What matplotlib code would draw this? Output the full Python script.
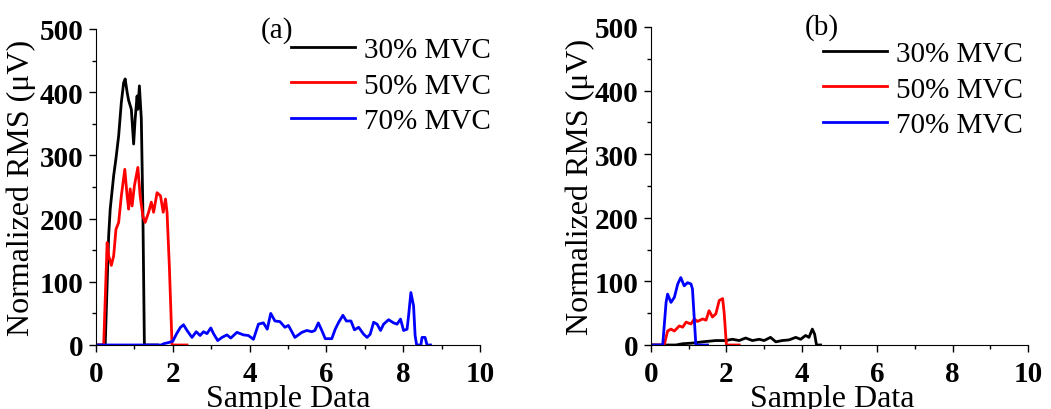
import numpy as np
import matplotlib
matplotlib.use("Agg")
import matplotlib.pyplot as plt
from matplotlib.ticker import MultipleLocator

plt.rcParams["font.family"] = ["Liberation Serif", "DejaVu Serif"]

labels = ["30% MVC", "50% MVC", "70% MVC"]
colors = ["black", "red", "blue"]

# panel (a)
a30_x = [0, 0.24, 0.33, 0.37, 0.46, 0.52, 0.59, 0.66, 0.72, 0.76, 0.81, 0.85, 0.92,
         0.98, 1.02, 1.07, 1.09, 1.13, 1.18, 1.22, 1.26, 1.6]
a30_y = [0, 0, 173, 215, 268, 295, 331, 384, 415, 421, 400, 387, 373,
         318, 358, 394, 373, 410, 358, 215, 0, 0]

a50_x = [0, 0.2, 0.29, 0.33, 0.40, 0.46, 0.52, 0.59, 0.66, 0.75, 0.81, 0.85, 0.89,
         0.94, 1.0, 1.09, 1.15, 1.22, 1.28, 1.37, 1.44, 1.5, 1.59, 1.68, 1.75,
         1.81, 1.85, 1.91, 1.98, 2.37]
a50_y = [0, 0, 162, 141, 126, 141, 183, 194, 236, 278, 236, 215, 247,
         220, 252, 281, 236, 204, 194, 210, 226, 210, 241, 236, 210,
         231, 210, 125, 0, 0]

a70_x = [0, 1.7, 1.76, 1.9, 2.0, 2.1, 2.2, 2.28, 2.37, 2.5, 2.61, 2.71, 2.8, 2.89,
         2.99, 3.06, 3.17, 3.28, 3.41, 3.51, 3.67, 3.84, 3.97, 4.1, 4.23, 4.36,
         4.46, 4.55, 4.66, 4.79, 4.92, 5.01, 5.18, 5.36, 5.49, 5.62, 5.7, 5.79,
         5.88, 5.97, 6.14, 6.23, 6.32, 6.43, 6.52, 6.64, 6.73, 6.84, 6.97, 7.06,
         7.14, 7.23, 7.32, 7.41, 7.49, 7.62, 7.75, 7.84, 7.93, 8.01, 8.1, 8.14,
         8.2, 8.27, 8.31, 8.35, 8.46, 8.49, 8.57, 8.62, 8.71]
a70_y = [0, 0, 2, 4, 6, 18, 28, 32, 23, 12, 21, 15, 21, 18,
         27, 18, 7, 12, 16, 11, 20, 16, 15, 9, 33, 35,
         25, 50, 38, 37, 28, 31, 12, 20, 23, 21, 23, 35,
         23, 10, 10, 25, 36, 47, 38, 38, 24, 28, 17, 12,
         17, 36, 33, 23, 33, 40, 35, 33, 41, 23, 25, 46,
         83, 62, 15, 0, 0, 12, 12, 0, 0]

# panel (b)
b30_x = [0, 0.35, 0.66, 0.84, 1.1, 1.37, 1.72, 1.98, 2.16, 2.34, 2.51, 2.69, 2.87,
         3.0, 3.17, 3.31, 3.48, 3.66, 3.84, 3.97, 4.1, 4.19, 4.28, 4.34, 4.39, 4.5]
b30_y = [0, 0, 0, 2, 3, 5, 7, 7, 9, 7, 11, 7, 9,
         7, 12, 5, 7, 8, 12, 9, 15, 12, 25, 17, 0, 0]

b50_x = [0, 0.35, 0.44, 0.53, 0.62, 0.75, 0.84, 0.93, 1.06, 1.15, 1.23, 1.37, 1.46,
         1.54, 1.63, 1.72, 1.81, 1.90, 1.94, 2.0, 2.34]
b50_y = [0, 0, 22, 25, 22, 30, 28, 36, 33, 41, 37, 41, 39,
         54, 44, 49, 70, 73, 51, 0, 0]

b70_x = [0, 0.31, 0.40, 0.44, 0.53, 0.62, 0.71, 0.79, 0.88, 0.97, 1.06, 1.10, 1.19, 1.5]
b70_y = [0, 0, 67, 80, 67, 75, 96, 106, 93, 98, 96, 88, 0, 0]

panels = [
    ("(a)", [(a30_x, a30_y), (a50_x, a50_y), (a70_x, a70_y)]),
    ("(b)", [(b30_x, b30_y), (b50_x, b50_y), (b70_x, b70_y)]),
]

W, H = 1051, 410
fig = plt.figure(figsize=(W / 100, H / 100), dpi=100)

# axes boxes in pixels: left, top, right, bottom
boxes = [(96, 30, 480, 346), (651, 28, 1028, 346)]
ylab_x = [-0.155, -0.148]
xlab_x = [0.5, 0.48]
tag_pos = [(277, 31), (822, 28)]
leg_pos = [(291, 38), (823, 42)]

for i, (tag, series) in enumerate(panels):
    l, t, r, b = boxes[i]
    ax = fig.add_axes([l / W, 1 - b / H, (r - l) / W, (b - t) / H])
    for (x, y), c, lab in zip(series, colors, labels):
        ax.plot(x, y, color=c, lw=2, label=lab)
    ax.set_xlim(0, 10)
    ax.set_ylim(0, 500)
    ax.xaxis.set_major_locator(MultipleLocator(2))
    ax.xaxis.set_minor_locator(MultipleLocator(1))
    ax.yaxis.set_major_locator(MultipleLocator(100))
    ax.yaxis.set_minor_locator(MultipleLocator(50))
    ax.spines["top"].set_visible(False)
    ax.spines["right"].set_visible(False)
    ax.tick_params(which="major", direction="out", length=5, width=1, pad=4,
                   labelsize=21)
    ax.tick_params(axis="x", which="major", pad=6)
    ax.tick_params(which="minor", direction="out", length=3, width=1)
    for lb in ax.get_xticklabels() + ax.get_yticklabels():
        lb.set_fontweight("bold")
    ax.set_ylabel("Normalized RMS (μV)", fontsize=23)
    ax.yaxis.set_label_coords(ylab_x[i], 0.5)
    ax.set_xlabel("Sample Data", fontsize=23)
    ax.xaxis.set_label_coords(xlab_x[i], -0.122)

    fig.text(tag_pos[i][0] / W, 1 - tag_pos[i][1] / H, tag, fontsize=21,
             ha="center", va="center")
    ax.legend(loc="upper left", bbox_to_anchor=(leg_pos[i][0] / W, 1 - leg_pos[i][1] / H),
              bbox_transform=fig.transFigure, frameon=False, fontsize=21,
              handlelength=2.2, handletextpad=0.3, labelspacing=0.3,
              borderpad=0, borderaxespad=0)

fig.savefig("out.png", dpi=100)
